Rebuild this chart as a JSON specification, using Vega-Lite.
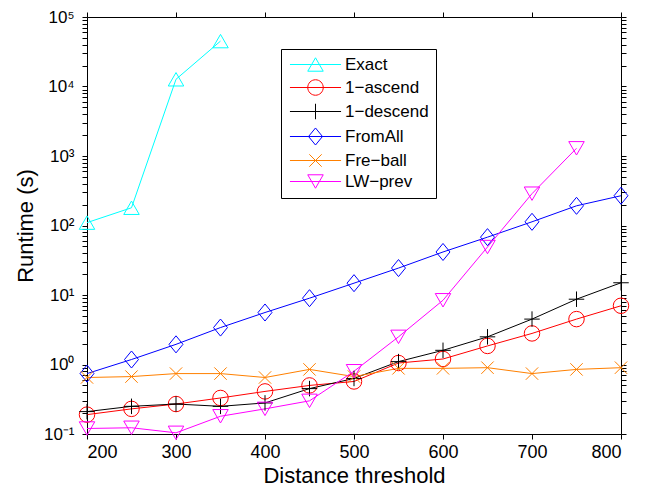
{
  "$schema": "https://vega.github.io/schema/vega-lite/v6.json",
  "width": 534,
  "height": 417,
  "autosize": "none",
  "padding": {"left": 87, "top": 17, "right": 33, "bottom": 57},
  "background": "white",
  "config": {
    "font": "Liberation Sans",
    "view": {"stroke": "black", "strokeWidth": 1},
    "axis": {"labelColor": "black", "titleColor": "black", "tickColor": "black", "domain": false, "grid": false, "labelFont": "Liberation Sans", "titleFont": "Liberation Sans", "titleFontWeight": "normal"},
    "point": {"filled": false, "size": 240, "strokeWidth": 1, "opacity": 1, "clip": true}
  },
  "data": {"values": [
    {"series": "Exact", "d": 200, "t": 110},
    {"series": "Exact", "d": 250, "t": 180},
    {"series": "Exact", "d": 300, "t": 12700},
    {"series": "Exact", "d": 350, "t": 45000},
    {"series": "1-ascend", "d": 200, "t": 0.19},
    {"series": "1-ascend", "d": 250, "t": 0.23},
    {"series": "1-ascend", "d": 300, "t": 0.27},
    {"series": "1-ascend", "d": 350, "t": 0.33},
    {"series": "1-ascend", "d": 400, "t": 0.41},
    {"series": "1-ascend", "d": 450, "t": 0.50},
    {"series": "1-ascend", "d": 500, "t": 0.57},
    {"series": "1-ascend", "d": 550, "t": 1.05},
    {"series": "1-ascend", "d": 600, "t": 1.2},
    {"series": "1-ascend", "d": 650, "t": 1.85},
    {"series": "1-ascend", "d": 700, "t": 2.8},
    {"series": "1-ascend", "d": 750, "t": 4.5},
    {"series": "1-ascend", "d": 800, "t": 7.0},
    {"series": "1-descend", "d": 200, "t": 0.21},
    {"series": "1-descend", "d": 250, "t": 0.25},
    {"series": "1-descend", "d": 300, "t": 0.27},
    {"series": "1-descend", "d": 350, "t": 0.25},
    {"series": "1-descend", "d": 400, "t": 0.28},
    {"series": "1-descend", "d": 450, "t": 0.45},
    {"series": "1-descend", "d": 500, "t": 0.63},
    {"series": "1-descend", "d": 550, "t": 1.1},
    {"series": "1-descend", "d": 600, "t": 1.6},
    {"series": "1-descend", "d": 650, "t": 2.5},
    {"series": "1-descend", "d": 700, "t": 4.5},
    {"series": "1-descend", "d": 750, "t": 8.7},
    {"series": "1-descend", "d": 800, "t": 15},
    {"series": "FromAll", "d": 200, "t": 0.74},
    {"series": "FromAll", "d": 250, "t": 1.18},
    {"series": "FromAll", "d": 300, "t": 1.95},
    {"series": "FromAll", "d": 350, "t": 3.4},
    {"series": "FromAll", "d": 400, "t": 5.6},
    {"series": "FromAll", "d": 450, "t": 9.0},
    {"series": "FromAll", "d": 500, "t": 14.8},
    {"series": "FromAll", "d": 550, "t": 24.4},
    {"series": "FromAll", "d": 600, "t": 41.6},
    {"series": "FromAll", "d": 650, "t": 68},
    {"series": "FromAll", "d": 700, "t": 113},
    {"series": "FromAll", "d": 750, "t": 192},
    {"series": "FromAll", "d": 800, "t": 268},
    {"series": "Fre-ball", "d": 200, "t": 0.65},
    {"series": "Fre-ball", "d": 250, "t": 0.67},
    {"series": "Fre-ball", "d": 300, "t": 0.74},
    {"series": "Fre-ball", "d": 350, "t": 0.74},
    {"series": "Fre-ball", "d": 400, "t": 0.65},
    {"series": "Fre-ball", "d": 450, "t": 0.85},
    {"series": "Fre-ball", "d": 500, "t": 0.67},
    {"series": "Fre-ball", "d": 550, "t": 0.88},
    {"series": "Fre-ball", "d": 600, "t": 0.88},
    {"series": "Fre-ball", "d": 650, "t": 0.9},
    {"series": "Fre-ball", "d": 700, "t": 0.74},
    {"series": "Fre-ball", "d": 750, "t": 0.85},
    {"series": "Fre-ball", "d": 800, "t": 0.9},
    {"series": "LW-prev", "d": 200, "t": 0.12},
    {"series": "LW-prev", "d": 250, "t": 0.123},
    {"series": "LW-prev", "d": 300, "t": 0.104},
    {"series": "LW-prev", "d": 350, "t": 0.18},
    {"series": "LW-prev", "d": 400, "t": 0.23},
    {"series": "LW-prev", "d": 450, "t": 0.30},
    {"series": "LW-prev", "d": 500, "t": 0.80},
    {"series": "LW-prev", "d": 550, "t": 2.5},
    {"series": "LW-prev", "d": 600, "t": 8.4},
    {"series": "LW-prev", "d": 650, "t": 49},
    {"series": "LW-prev", "d": 700, "t": 287},
    {"series": "LW-prev", "d": 750, "t": 1290}
  ]},
  "layer": [
    {
      "mark": {"type": "line", "strokeWidth": 1, "clip": true},
      "encoding": {
        "x": {"field": "d", "type": "quantitative", "scale": {"domain": [200, 800], "nice": false, "zero": false},
          "axis": {"orient": "bottom", "values": [200, 300, 400, 500, 600, 700, 800], "title": "Distance threshold", "titleFontSize": 22, "titlePadding": 4, "labelFontSize": 18, "tickSize": 5, "labelPadding": 4,
            "encode": {"ticks": {"update": {"y2": {"value": -5}}}}}},
        "y": {"field": "t", "type": "quantitative", "scale": {"type": "log", "domain": [0.1, 100000], "nice": false},
          "axis": {"orient": "left", "title": "Runtime (s)", "titleFontSize": 22, "titlePadding": 6, "labelFontSize": 17, "tickSize": 5, "labelPadding": 8,
            "values": [0.1,0.2,0.3,0.4,0.5,0.6,0.7,0.8,0.9,1,2,3,4,5,6,7,8,9,10,20,30,40,50,60,70,80,90,100,200,300,400,500,600,700,800,900,1000,2000,3000,4000,5000,6000,7000,8000,9000,10000,20000,30000,40000,50000,60000,70000,80000,90000,100000],
            "labelExpr": "datum.value == 0.1 ? '10⁻¹' : datum.value == 1 ? '10⁰' : datum.value == 10 ? '10¹' : datum.value == 100 ? '10²' : datum.value == 1000 ? '10³' : datum.value == 10000 ? '10⁴' : datum.value == 100000 ? '10⁵' : ''",
            "encode": {"ticks": {"update": {"x2": {"signal": "abs(log(datum.value)/LN10 - round(log(datum.value)/LN10)) < 0.001 ? 5 : 3"}}}}}},
        "color": {"field": "series", "type": "nominal",
          "scale": {"domain": ["Exact", "1-ascend", "1-descend", "FromAll", "Fre-ball", "LW-prev"], "range": ["#00ffff", "#ff0000", "#000000", "#0000ff", "#ff8000", "#ff00ff"]},
          "legend": {"title": null, "orient": "none", "legendX": 194, "legendY": 32, "strokeColor": "black", "fillColor": "white", "padding": 7, "labelFontSize": 17, "labelFont": "Liberation Sans", "labelColor": "black", "symbolSize": 240, "symbolOffset": 19, "labelOffset": 21, "rowPadding": 3, "symbolStrokeWidth": 1, "symbolFillColor": "transparent",
            "labelExpr": "replace(datum.label, '-', '−')",
            "encode": {"symbols": {"update": {"fill": {"value": "transparent"}, "strokeWidth": {"value": 1}, "opacity": {"value": 1},
              "shape": {"signal": "datum.value == 'Exact' ? 'M-3.3,0H3.3M0,-0.866L1,0.866L-1,0.866Z' : datum.value == '1-ascend' ? 'M-3.3,0H3.3M1,0A1,1,0,1,1,-1,0A1,1,0,1,1,1,0' : datum.value == '1-descend' ? 'M-3.3,0H3.3M0,-1V1' : datum.value == 'FromAll' ? 'M-3.3,0H3.3M0,-1.1L0.9,0L0,1.1L-0.9,0Z' : datum.value == 'Fre-ball' ? 'M-3.3,0H3.3M-0.8,-0.8L0.8,0.8M-0.8,0.8L0.8,-0.8' : 'M-3.3,0H3.3M0,0.866L1,-0.866L-1,-0.866Z'"}}}}}}
      }
    },
    {
      "transform": [{"filter": "datum.series == 'Exact'"}],
      "mark": {"type": "point", "shape": "triangle-up"},
      "encoding": {
        "x": {"field": "d", "type": "quantitative",
          "axis": {"orient": "top", "values": [200, 300, 400, 500, 600, 700, 800], "labels": false, "title": null, "tickSize": 5,
            "encode": {"ticks": {"update": {"y2": {"value": 5}}}}}},
        "y": {"field": "t", "type": "quantitative",
          "axis": {"orient": "right", "labels": false, "title": null, "tickSize": 5,
            "values": [0.1,0.2,0.3,0.4,0.5,0.6,0.7,0.8,0.9,1,2,3,4,5,6,7,8,9,10,20,30,40,50,60,70,80,90,100,200,300,400,500,600,700,800,900,1000,2000,3000,4000,5000,6000,7000,8000,9000,10000,20000,30000,40000,50000,60000,70000,80000,90000,100000],
            "encode": {"ticks": {"update": {"x2": {"signal": "abs(log(datum.value)/LN10 - round(log(datum.value)/LN10)) < 0.001 ? -5 : -3"}}}}}},
        "color": {"field": "series", "type": "nominal", "legend": null}
      }
    },
    {
      "transform": [{"filter": "datum.series == '1-ascend'"}],
      "mark": {"type": "point", "shape": "circle"},
      "encoding": {
        "x": {"field": "d", "type": "quantitative", "axis": null},
        "y": {"field": "t", "type": "quantitative", "axis": null},
        "color": {"field": "series", "type": "nominal", "legend": null}
      }
    },
    {
      "transform": [{"filter": "datum.series == '1-descend'"}],
      "mark": {"type": "point", "shape": "M0,-1V1M-1,0H1"},
      "encoding": {
        "x": {"field": "d", "type": "quantitative", "axis": null},
        "y": {"field": "t", "type": "quantitative", "axis": null},
        "color": {"field": "series", "type": "nominal", "legend": null}
      }
    },
    {
      "transform": [{"filter": "datum.series == 'FromAll'"}],
      "mark": {"type": "point", "shape": "M0,-1.1L0.9,0L0,1.1L-0.9,0Z"},
      "encoding": {
        "x": {"field": "d", "type": "quantitative", "axis": null},
        "y": {"field": "t", "type": "quantitative", "axis": null},
        "color": {"field": "series", "type": "nominal", "legend": null}
      }
    },
    {
      "transform": [{"filter": "datum.series == 'Fre-ball'"}],
      "mark": {"type": "point", "shape": "M-0.8,-0.8L0.8,0.8M-0.8,0.8L0.8,-0.8"},
      "encoding": {
        "x": {"field": "d", "type": "quantitative", "axis": null},
        "y": {"field": "t", "type": "quantitative", "axis": null},
        "color": {"field": "series", "type": "nominal", "legend": null}
      }
    },
    {
      "transform": [{"filter": "datum.series == 'LW-prev'"}],
      "mark": {"type": "point", "shape": "triangle-down"},
      "encoding": {
        "x": {"field": "d", "type": "quantitative", "axis": null},
        "y": {"field": "t", "type": "quantitative", "axis": null},
        "color": {"field": "series", "type": "nominal", "legend": null}
      }
    }
  ],
  "resolve": {"axis": {"x": "independent", "y": "independent"}, "scale": {"x": "shared", "y": "shared", "color": "shared"}}
}
